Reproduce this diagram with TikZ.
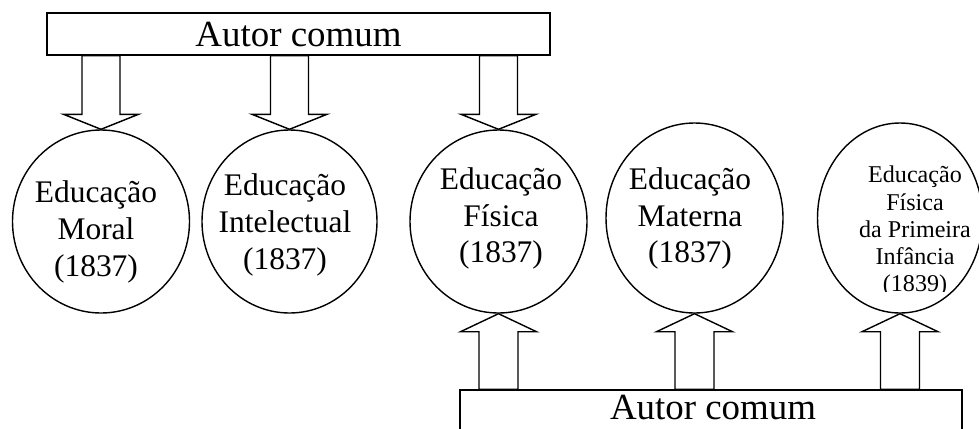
\documentclass[tikz,border=0pt]{standalone}
\usepackage{fontspec}
\setmainfont{Liberation Serif}
\usetikzlibrary{shapes.geometric,calc}

\tikzstyle{author}=[draw,line width=0.8pt,fill=white,minimum width=10.06cm,minimum height=0.84cm,inner sep=0pt,font=\fontsize{21}{25}\selectfont]
\tikzstyle{authortext}=[inner sep=0pt,font=\fontsize{21}{25}\selectfont]
\tikzstyle{work}=[draw,line width=0.8pt,ellipse,minimum width=3.54cm,minimum height=3.66cm,inner sep=0pt]
\tikzstyle{worktext}=[align=center,inner sep=0pt,font=\fontsize{17.9}{21}\selectfont]
\tikzstyle{smallworktext}=[align=center,inner sep=0pt,font=\fontsize{13.7}{15.5}\selectfont]
\tikzstyle{block}=[draw,line width=0.8pt,fill=white,line join=miter]

\begin{document}
\begin{tikzpicture}
  \useasboundingbox (0,0) rectangle (19.58,8.56);

  \node (top)[author] at (5.97,7.88) {Autor comum};
  \node (bottom)[author,minimum width=10.04cm,minimum height=1.2cm] at (14.22,0.16) {};
  \node (bt)[authortext] at (14.26,0.41) {Autor comum};

  \node (c1)[work] at (2.02,4.13) {};
  \node (c2)[work,minimum width=3.50cm] at (5.79,4.13) {};
  \node (c3)[work] at (9.97,4.13) {};
  \node (c4)[work,minimum height=3.80cm] at (13.89,4.20) {};
  \node (c5)[work,minimum width=3.30cm,minimum height=3.80cm] at (18.00,4.20) {};

  \node (t1)[worktext] at (1.92,3.92) {Educação\\Moral\\(1837)};
  \node (t2)[worktext] at (5.70,4.06) {Educação\\Intelectual\\(1837)};
  \node (t3)[worktext] at (10.02,4.19) {Educação\\Física\\(1837)};
  \node (t4)[worktext] at (13.80,4.19) {Educação\\Materna\\(1837)};
  \begin{scope}
    \clip (15,2.74) rectangle (19.58,8.56);
    \node (t5)[smallworktext] at (18.30,3.93) {Educação\\Física\\da Primeira\\Infância\\(1839)};
  \end{scope}

  % arrows from the common author down to the works
  \foreach \wk in {c1,c2,c3}{
    \draw[block] (\wk.north) -- ++(-0.75,0.3) -- ++(0.37,0)
      -- ($(\wk.north |- top.south)+(-0.38,0)$) -- ++(0.76,0)
      -- ($(\wk.north)+(0.38,0.3)$) -- ++(0.37,0) -- cycle;
  }
  % arrows from the second author up
  \foreach \wk in {c3,c4,c5}{
    \draw[block] (\wk.south) -- ++(-0.76,-0.36) -- ++(0.37,0)
      -- ($(\wk.south |- bottom.north)+(-0.39,0)$) -- ++(0.78,0)
      -- ($(\wk.south)+(0.39,-0.36)$) -- ++(0.37,0) -- cycle;
  }
\end{tikzpicture}
\end{document}
